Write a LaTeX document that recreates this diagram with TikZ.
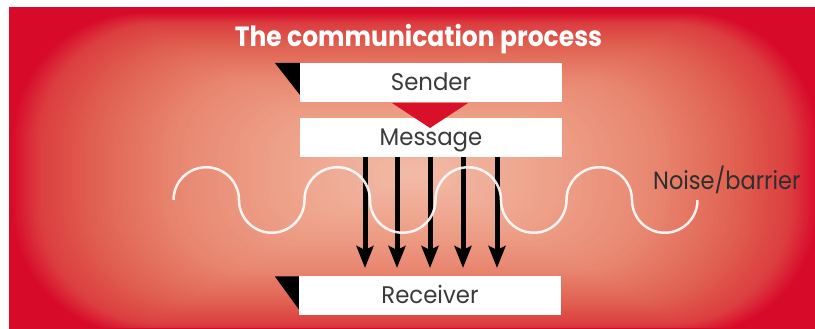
\documentclass[tikz,border=0pt]{standalone}
\usepackage{fontspec}
\setmainfont{Poppins}
\newfontfamily\titlefont[FakeStretch=0.9]{Poppins}
\newfontfamily\labelfont[FakeStretch=0.95]{Poppins}
\newfontfamily\noisefont[FakeStretch=0.9]{Poppins}
\usetikzlibrary{arrows.meta}
\definecolor{sA}{HTML}{F2BAA6}
\definecolor{sB}{HTML}{EEA088}
\definecolor{sC}{HTML}{E88670}
\definecolor{sD}{HTML}{E06050}
\definecolor{sE}{HTML}{DC3E40}
\definecolor{edgered}{HTML}{D80A2A}
\definecolor{textgrey}{HTML}{3A3A3A}
\definecolor{trired}{HTML}{D8102A}
% gradient segment: #1 outer t, #2 inner t, #3 outer colour, #4 inner colour, #5 steps, #6 steps-1
\newcommand\gradseg[6]{%
  \foreach \j in {0,...,#6}{%
    \pgfmathsetmacro\gt{#1-(#1-#2)*\j/#5}%
    \pgfmathsetmacro\gp{100*\j/#5}%
    \pgfmathsetmacro\ga{405*\gt}%
    \pgfmathsetmacro\gb{162*\gt}%
    \pgfmathsetmacro\gr{130*\gt}%
    \fill[#4!\gp!#3,rounded corners=\gr pt] (415-\ga,155-\gb) rectangle (415+\ga,155+\gb);
  }}
\begin{document}
\begin{tikzpicture}[x=1pt,y=1pt,
  box/.style={fill=white,draw=none,inner sep=0pt,minimum width=262pt,minimum height=39pt,
    text height=16pt,text depth=0pt,font=\labelfont\fontsize{24}{24}\selectfont,text=textgrey},
  flowarrow/.style={line width=5pt,draw=black,-{Stealth[length=22pt,width=17pt,inset=4pt]}},
  wave/.style={draw=white,line width=2.5pt,opacity=0.9}]
\useasboundingbox (0,0) rectangle (815,329);
% panel
\fill[edgered] (9,0) rectangle (815,321);
\begin{scope}
\clip (9,0) rectangle (815,321);
\gradseg{1.0}{0.93}{edgered}{sE}{10}{9}
\gradseg{0.93}{0.8}{sE}{sD}{14}{13}
\gradseg{0.8}{0.6}{sD}{sC}{18}{17}
\gradseg{0.6}{0.35}{sC}{sB}{20}{19}
\gradseg{0.35}{0.02}{sB}{sA}{24}{23}
\draw[edgered,line width=1.2pt] (9,0) rectangle (815,321);
\end{scope}
% title
\node[anchor=base,text=white,font=\titlefont\bfseries\fontsize{27.8}{28}\selectfont] (title) at (418.5,282) {The communication process};
% boxes
\node[box] (sender) at (431,246.5) {Sender};
\node[box] (message) at (431,191.5) {Message};
\node[box] (receiver) at (430,33) {Receiver};
% black corner triangles
\fill[black] (sender.north west) ++(-25,0) coordinate (st) -- (sender.north west) -- ++(0,-32) -- cycle;
\fill[black] (receiver.north west) ++(-24,0) coordinate (rt) -- (receiver.north west) -- ++(0,-33) -- cycle;
% red triangle
\coordinate (redtip) at (430,201);
\fill[trired] (392,226) -- (468,226) -- (redtip) -- cycle;
% arrows
\foreach \i/\x in {1/365,2/397,3/430,4/463,5/497}{
  \coordinate (a\i) at (\x,172);
  \coordinate (b\i) at (\x,61);
  \draw[flowarrow] (a\i) -- (b\i);
}
% wave
\coordinate (w0) at (173.5,129);
\draw[wave] (w0)
  arc[start angle=180,end angle=0,radius=32.75]
  arc[start angle=180,end angle=360,radius=32.75]
  arc[start angle=180,end angle=0,radius=32.75]
  arc[start angle=180,end angle=360,radius=32.75]
  arc[start angle=180,end angle=0,radius=32.75]
  arc[start angle=180,end angle=360,radius=32.75]
  arc[start angle=180,end angle=0,radius=32.75]
  arc[start angle=180,end angle=360,radius=32.75] coordinate (w1);
% noise label
\node[anchor=base west,inner sep=0pt,text=textgrey!80!black,font=\noisefont\fontsize{25}{25}\selectfont] (noise) at (653,139) {Noise/barrier};
\end{tikzpicture}
\end{document}
